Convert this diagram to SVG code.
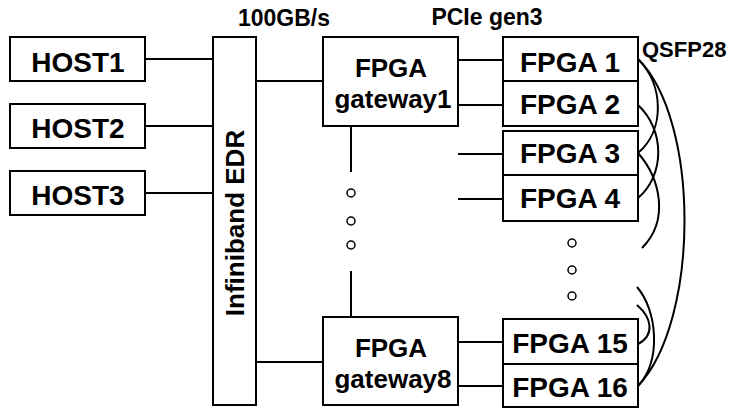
<svg xmlns="http://www.w3.org/2000/svg" width="737" height="410" viewBox="0 0 737 410">
<style>
.box{fill:#fff;stroke:#000;stroke-width:2}
.ln{fill:none;stroke:#000;stroke-width:2}
.cv{fill:none;stroke:#000;stroke-width:2}
.dot{fill:#fff;stroke:#000;stroke-width:1.5}
text{font-family:"Liberation Sans",Arial,sans-serif;font-weight:bold;fill:#000}
.big{font-size:28px;text-anchor:middle}
.gw{font-size:26px;text-anchor:middle}
.lbl{font-size:23px;text-anchor:middle}
</style>
<rect width="737" height="410" fill="#fff"/>
<g id="connectors">
<line class="ln" x1="145" y1="59" x2="213" y2="59"/>
<line class="ln" x1="145" y1="126" x2="213" y2="126"/>
<line class="ln" x1="145" y1="193" x2="213" y2="193"/>
<line class="ln" x1="256" y1="81" x2="323" y2="81"/>
<line class="ln" x1="256" y1="362" x2="323" y2="362"/>
<line class="ln" x1="458" y1="60" x2="503" y2="60"/>
<line class="ln" x1="458" y1="105" x2="503" y2="105"/>
<line class="ln" x1="458" y1="154" x2="503" y2="154"/>
<line class="ln" x1="458" y1="199" x2="503" y2="199"/>
<line class="ln" x1="458" y1="342" x2="503" y2="342"/>
<line class="ln" x1="458" y1="386" x2="503" y2="386"/>
<line class="ln" x1="351" y1="126" x2="351" y2="172"/>
<line class="ln" x1="351" y1="271" x2="351" y2="317"/>
<path class="cv" d="M638,59 C664,85 665,130 638,153"/>
<path class="cv" d="M638,105 C665,130 665,175 638,198"/>
<path class="cv" d="M638,153 C660,178 670,220 642,248"/>
<path class="cv" d="M638,59 C700,120 700,320 638,386"/>
<path class="cv" d="M637,287 C657,310 662,360 638,386"/>
<path class="cv" d="M637,305 C652,318 655,335 638,344"/>
</g>
<g id="dots">
<circle class="dot" cx="351" cy="193" r="4"/>
<circle class="dot" cx="351" cy="221" r="4"/>
<circle class="dot" cx="351" cy="245" r="4"/>
<circle class="dot" cx="572" cy="243" r="4"/>
<circle class="dot" cx="572" cy="270" r="4"/>
<circle class="dot" cx="572" cy="296" r="4"/>
</g>
<g id="host1"><rect class="box" x="10" y="37" width="135" height="44"/><text class="big" x="78" y="72">HOST1</text></g>
<g id="host2"><rect class="box" x="10" y="104" width="135" height="44"/><text class="big" x="78" y="138">HOST2</text></g>
<g id="host3"><rect class="box" x="10" y="171" width="135" height="44"/><text class="big" x="78" y="205">HOST3</text></g>
<g id="infiniband"><rect class="box" x="213" y="37" width="43" height="368"/><text class="big" style="font-size:26px" transform="translate(244,223) rotate(-90)" x="0" y="0">Infiniband EDR</text></g>
<g id="gateway1"><rect class="box" x="323" y="37" width="135" height="89"/><text class="gw" x="391" y="77">FPGA</text><text class="gw" x="393" y="108">gateway1</text></g>
<g id="gateway8"><rect class="box" x="323" y="317" width="135" height="88"/><text class="gw" x="391" y="357">FPGA</text><text class="gw" x="393" y="388">gateway8</text></g>
<g id="fpga1"><rect class="box" x="503" y="37" width="135" height="44"/><text class="big" x="570" y="72">FPGA 1</text></g>
<g id="fpga2"><rect class="box" x="503" y="81" width="135" height="45"/><text class="big" x="570" y="114">FPGA 2</text></g>
<g id="fpga3"><rect class="box" x="503" y="131" width="135" height="44"/><text class="big" x="570" y="163">FPGA 3</text></g>
<g id="fpga4"><rect class="box" x="503" y="175" width="135" height="46"/><text class="big" x="570" y="208">FPGA 4</text></g>
<g id="fpga15"><rect class="box" x="503" y="319" width="135" height="45"/><text class="big" x="570" y="353">FPGA 15</text></g>
<g id="fpga16"><rect class="box" x="503" y="364" width="135" height="43"/><text class="big" x="570" y="397">FPGA 16</text></g>
<g id="labels">
<text class="lbl" x="284" y="26">100GB/s</text>
<text class="lbl" x="487" y="25">PCIe gen3</text>
<text style="font-size:22px" x="642" y="57">QSFP28</text>
</g>
</svg>
